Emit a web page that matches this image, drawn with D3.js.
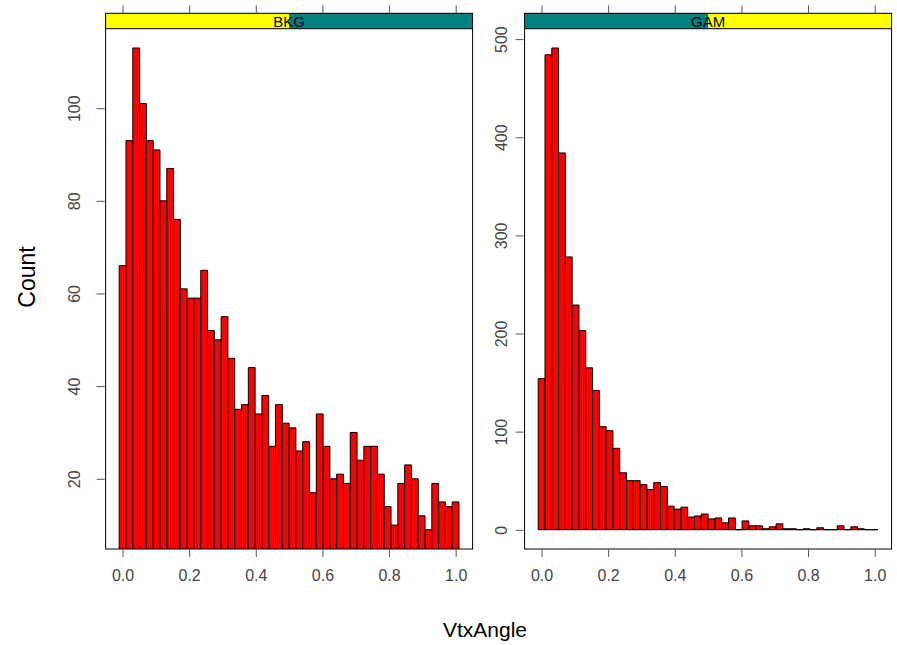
<!DOCTYPE html>
<html>
<head>
<meta charset="utf-8">
<script src="https://cdn.jsdelivr.net/npm/d3@7"></script>
<style>
  body { margin: 0; background: #fff; }
  svg { font-family: "Liberation Sans", Arial, sans-serif; }
  .bar { fill: #ff0000; stroke: #000; stroke-width: 1; }
  .tick line { stroke: #555; }
  .tick text { fill: #444; font-size: 16px; }
  .domain { display: none; }
</style>
</head>
<body>
<svg width="897" height="645"></svg>
<script>
// bin breaks (shared by both panels)
const breaks = d3.range(51).map(i => -0.01 + i * 0.0204);

const panels = ["BKG", "GAM"];

const bkgCounts = [66, 93, 113, 101, 93, 91, 80, 87, 76, 61,
  59, 59, 65, 52, 50, 55, 46, 35, 36, 44,
  34, 38, 27, 36, 32, 31, 26, 28, 17, 34,
  27, 20, 21, 19, 30, 24, 27, 27, 21, 14,
  10, 19, 23, 20, 12, 9, 19, 15, 14, 15];

const gamCounts = [154, 484, 491, 384, 278, 229, 203, 165, 142, 105,
  101, 83, 58, 50, 50, 46, 41, 48, 44, 24,
  21, 23, 13, 14, 16, 11, 12, 7, 12, 0,
  9, 4, 4, 1, 3, 6, 1, 1, 0, 1,
  0, 2, 0, 0, 4, 0, 3, 1, 0, 0];

const xTicks = [0, 0.2, 0.4, 0.6, 0.8, 1.0];
const bkgTicks = [20, 40, 60, 80, 100];
const gamTicks = [0, 100, 200, 300, 400, 500];

const svg = d3.select('svg');

const stripTop = 13.3, stripH = 15.4, panelBottom = 549;
const panelW = 367;
const panelLeft = [105.6, 524.6];
const labelGap = [26, 18];

// lattice style 4% extension
function extend(r) {
  const d = (r[1] - r[0]) * 0.04;
  return [r[0] - d, r[1] + d];
}

function drawPanel(i, counts, yTicks) {
  const x0 = panelLeft[i];
  const g = svg.append('g').attr('transform', `translate(${x0}, 0)`);

  const xScale = d3.scaleLinear()
    .domain(extend([breaks[0], breaks[breaks.length - 1]]))
    .range([0, panelW]);

  const yScale = d3.scaleLinear()
    .domain(extend(d3.extent(counts)))
    .range([panelBottom, stripTop + stripH]);

  g.append('clipPath').attr('id', 'clip' + i)
    .append('rect')
    .attr('x', 0).attr('y', stripTop + stripH)
    .attr('width', panelW).attr('height', panelBottom - stripTop - stripH);

  const bins = counts.map((c, k) => ({x0: breaks[k], x1: breaks[k + 1], c: c}));

  // drawn as paths so that empty bins still show as a line on the baseline
  g.append('g').attr('clip-path', `url(#clip${i})`)
    .selectAll('path')
    .data(bins)
    .enter()
    .append('path')
    .attr('class', 'bar')
    .attr('d', d => {
      const a = xScale(d.x0), b = xScale(d.x1);
      const y0 = yScale(0), y1 = yScale(d.c);
      return `M${a},${y0}H${b}V${y1}H${a}Z`;
    });

  // strip
  g.append('rect')
    .attr('x', 0).attr('y', stripTop)
    .attr('width', panelW).attr('height', stripH)
    .attr('fill', '#008080');
  g.append('rect')
    .attr('x', panelW * i / panels.length).attr('y', stripTop)
    .attr('width', panelW / panels.length).attr('height', stripH)
    .attr('fill', '#ffff00');
  g.append('line')
    .attr('x1', 0).attr('x2', panelW)
    .attr('y1', stripTop + stripH).attr('y2', stripTop + stripH)
    .attr('stroke', '#000');
  g.append('text')
    .attr('x', panelW / 2).attr('y', stripTop + stripH - 2)
    .attr('text-anchor', 'middle')
    .style('font-size', '15px')
    .text(panels[i]);

  // panel border
  g.append('rect')
    .attr('x', 0).attr('y', stripTop)
    .attr('width', panelW).attr('height', panelBottom - stripTop)
    .attr('fill', 'none').attr('stroke', '#000');

  // axes
  const xa = g.append('g')
    .attr('transform', `translate(0, ${panelBottom})`)
    .call(d3.axisBottom(xScale).tickValues(xTicks).tickFormat(d3.format('.1f'))
      .tickSize(8));
  xa.selectAll('.tick text').attr('y', 32).attr('dy', 0);

  g.append('g')
    .attr('transform', `translate(0, ${stripTop})`)
    .call(d3.axisTop(xScale).tickValues(xTicks).tickFormat('').tickSize(8));

  const ya = g.append('g')
    .call(d3.axisLeft(yScale).tickValues(yTicks).tickSize(9));
  ya.selectAll('.tick line').attr('x1', -9).attr('x2', -1);
  ya.selectAll('.tick text')
    .attr('x', null).attr('dy', 0)
    .attr('text-anchor', 'middle')
    .attr('transform', `translate(${-labelGap[i]}, 0) rotate(-90)`);
}

drawPanel(0, bkgCounts, bkgTicks);
drawPanel(1, gamCounts, gamTicks);

svg.append('text')
  .attr('transform', 'translate(35, 277) rotate(-90)')
  .attr('text-anchor', 'middle')
  .style('font-size', '23px')
  .text('Count');

svg.append('text')
  .attr('x', 485)
  .attr('y', 637)
  .attr('text-anchor', 'middle')
  .style('font-size', '21px')
  .text('VtxAngle');
</script>
</body>
</html>
